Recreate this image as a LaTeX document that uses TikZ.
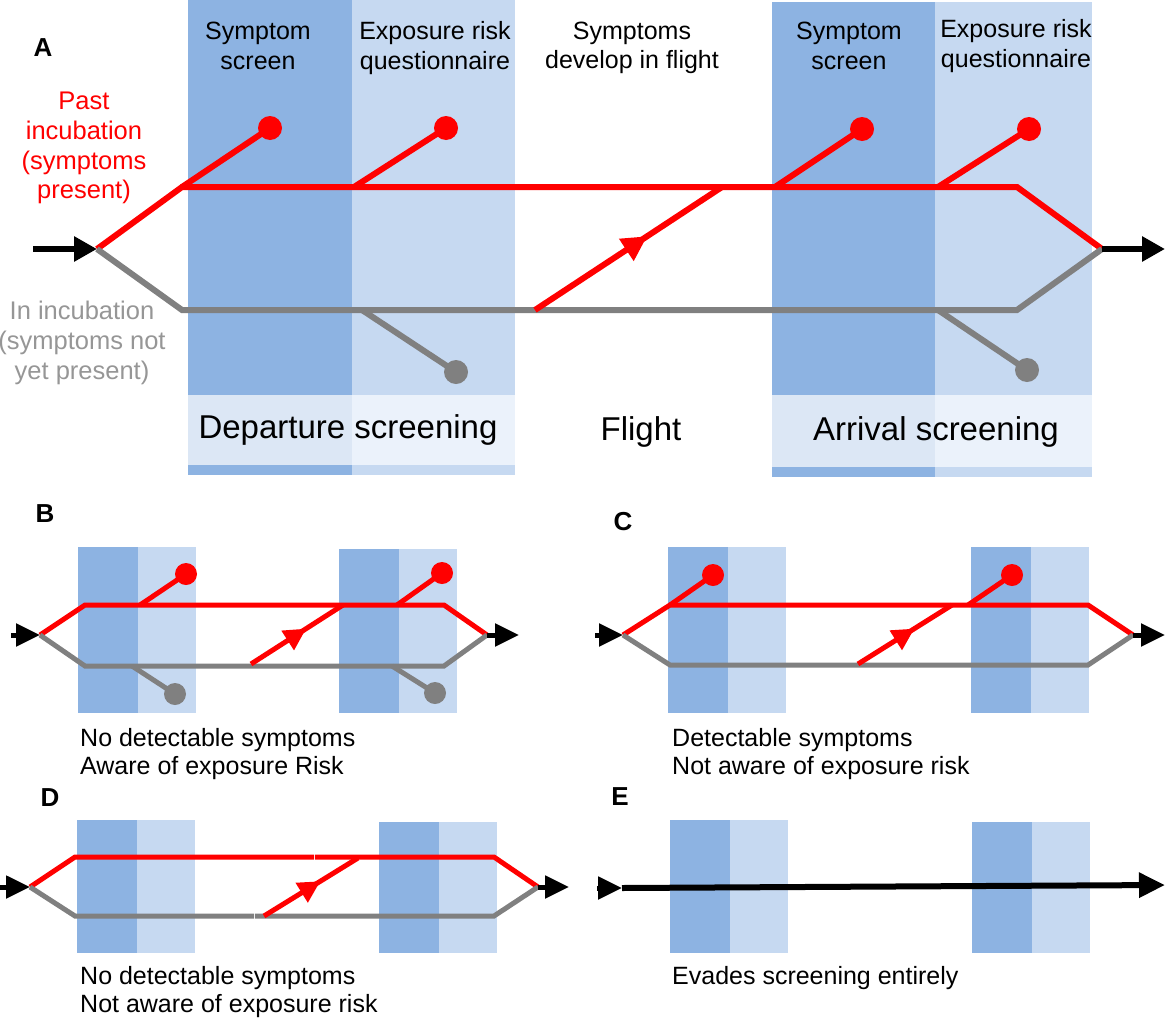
\documentclass[tikz,border=0pt]{standalone}
\usepackage{fontspec}
\setmainfont{Liberation Sans}
\usetikzlibrary{arrows.meta,decorations.markings}
\definecolor{scrdark}{RGB}{141,179,226}
\definecolor{scrlight}{RGB}{198,217,241}
\definecolor{banddark}{RGB}{220,231,245}
\definecolor{bandlight}{RGB}{235,242,251}
\definecolor{incgray}{RGB}{128,128,128}
\definecolor{labgray}{RGB}{150,150,150}
% a pair of screening boxes: left x, top y, bottom y
\newcommand{\screenpair}[3]{%
  \fill[scrdark] (#1,#2) rectangle ({#1+60},#3);
  \fill[scrlight] ({#1+60},#2) rectangle ({#1+118},#3);}

\begin{document}
\begin{tikzpicture}[x=1pt, y=-1pt,
  redline/.style={red, line width=6pt},
  grayline/.style={incgray, line width=6pt},
  small/.style={line width=5pt},
  flow/.style={black, line width=6pt, -{Triangle[length=23pt,width=24pt]}},
  smallflow/.style={black, line width=5pt, -{Triangle[length=24pt,width=22pt]}},
  onset/.style={postaction=decorate, decoration={markings,
      mark=at position 0.6 with {\arrow{Triangle[length=#1,width=#1]}}}},
  lab/.style={font=\fontsize{25}{29.5}\selectfont, align=center, inner sep=0pt},
  side/.style={font=\fontsize{25.5}{29.8}\selectfont, align=center, inner sep=0pt},
  big/.style={font=\fontsize{33}{40}\selectfont, inner sep=0pt},
  caption/.style={font=\fontsize{25}{28}\selectfont, align=left, anchor=west, inner sep=0pt},
  panel/.style={font=\fontsize{26}{30}\selectfont\bfseries, inner sep=0pt}]
\useasboundingbox (0,0) rectangle (1167,1020);

% panel A: screening zones
\fill[scrdark] (188,0) rectangle (352,395);
\fill[scrlight] (352,0) rectangle (515,395);
\fill[banddark] (188,395) rectangle (352,465);
\fill[bandlight] (352,395) rectangle (515,465);
\fill[scrdark] (188,465) rectangle (352,475);
\fill[scrlight] (352,465) rectangle (515,475);
\fill[scrdark] (772,2) rectangle (935,395);
\fill[scrlight] (935,2) rectangle (1092,395);
\fill[banddark] (772,395) rectangle (935,467);
\fill[bandlight] (935,395) rectangle (1092,467);
\fill[scrdark] (772,467) rectangle (935,477);
\fill[scrlight] (935,467) rectangle (1092,477);

\coordinate (aIn) at (33,249);
\coordinate (aS) at (97,249);
\coordinate (aRL) at (182,187);
\coordinate (aRR) at (1017,187);
\coordinate (aGL) at (182,310);
\coordinate (aGR) at (1017,310);
\coordinate (aE) at (1102,249);
\coordinate (aOut) at (1165,249);
\coordinate (aOn) at (535,310);
\coordinate (aOnEnd) at (722,187);

\draw[redline] (aS) -- (aRL) -- (aRR) -- (aE);
\draw[grayline] (aS) -- (aGL) -- (aGR) -- (aE);
\draw[redline, onset=25pt] (aOn) -- (aOnEnd);
\draw[flow] (aIn) -- (aS);
\draw[flow] (aE) -- (aOut);

\coordinate (aD1) at (270,128);
\coordinate (aD2) at (446,128);
\coordinate (aD3) at (862,129);
\coordinate (aD4) at (1029,129);
\coordinate (aG1) at (456,372);
\coordinate (aG2) at (1027,370);
\draw[redline] (aRL) -- (aD1);
\draw[redline] (354,187) -- (aD2);
\draw[redline] (775,187) -- (aD3);
\draw[redline] (938,187) -- (aD4);
\draw[grayline] (362,310) -- (aG1);
\draw[grayline] (938,310) -- (aG2);
\foreach \d in {aD1,aD2,aD3,aD4} \fill[red] (\d) circle[radius=12];
\foreach \d in {aG1,aG2} \fill[incgray] (\d) circle[radius=12];

\node[panel] (lA) at (43,48) {A};
\node[lab] (depSym) at (258,46) {Symptom\\screen};
\node[lab] (depExp) at (435,48) {Exposure risk\\questionnaire};
\node[lab] (devel) at (632,48) {Symptoms\\develop in flight};
\node[lab] (arrSym) at (849,46) {Symptom\\screen};
\node[lab] (arrExp) at (1016,46) {Exposure risk\\questionnaire};
\node[side, red] (past) at (84,148) {Past\\incubation\\(symptoms\\present)};
\node[side, labgray] (incub) at (82,343) {In incubation\\(symptoms not\\yet present)};
\node[big] (depart) at (348,430) {Departure screening};
\node[big] (flight) at (641,432) {Flight};
\node[big] (arrive) at (936,432) {Arrival screening};

% panel B
\screenpair{78}{547}{713}
\screenpair{339}{549}{713}
\coordinate (bIn) at (11,635);
\coordinate (bS) at (40,635);
\coordinate (bE) at (487,635);
\coordinate (bOut) at (519,635);
\draw[redline, small] (bS) -- (85,605) -- (444,605) -- (bE);
\draw[grayline, small] (bS) -- (85,666) -- (444,666) -- (bE);
\draw[redline, small, onset=22pt] (251,664) -- (343,605);
\draw[redline, small] (140,605) -- (186,574);
\draw[redline, small] (397,605) -- (442,573);
\draw[grayline, small] (132,666) -- (175,694);
\draw[grayline, small] (392,666) -- (435,693);
\fill[red] (186,574) circle[radius=11];
\fill[red] (442,573) circle[radius=11];
\fill[incgray] (175,694) circle[radius=11];
\fill[incgray] (435,693) circle[radius=11];
\draw[smallflow] (bIn) -- (bS);
\draw[smallflow] (bE) -- (bOut);
\node[panel] (lB) at (45,514) {B};
\node[caption] (capB) at (80,754) {No detectable symptoms\\Aware of exposure Risk};

% panel C
\screenpair{668}{547}{713}
\screenpair{971}{547}{713}
\coordinate (cIn) at (595,635);
\coordinate (cS) at (623,635);
\coordinate (cE) at (1133,635);
\coordinate (cOut) at (1165,635);
\draw[redline, small] (cS) -- (670,605) -- (1088,605) -- (cE);
\draw[grayline, small] (cS) -- (670,665) -- (1088,665) -- (cE);
\draw[redline, small, onset=22pt] (858,664) -- (952,605);
\draw[redline, small] (670,605) -- (713,575);
\draw[redline, small] (968,605) -- (1012,575);
\fill[red] (713,575) circle[radius=11];
\fill[red] (1012,575) circle[radius=11];
\draw[smallflow] (cIn) -- (cS);
\draw[smallflow] (cE) -- (cOut);
\node[panel] (lC) at (623,522) {C};
\node[caption] (capC) at (672,754) {Detectable symptoms\\Not aware of exposure risk};

% panel D
\screenpair{77}{820}{953}
\screenpair{379}{822}{953}
\coordinate (dIn) at (0,887);
\coordinate (dS) at (30,887);
\coordinate (dE) at (538,887);
\coordinate (dOut) at (569,887);
\draw[redline, small] (dS) -- (75,857) -- (314,857);
\draw[redline, small] (315.2,857) -- (494,857) -- (dE);
\draw[grayline, small] (dS) -- (75,916) -- (254,916);
\draw[grayline, small] (255.2,916) -- (494,916) -- (dE);
\draw[redline, small, onset=22pt] (264,916) -- (358,858);
\draw[smallflow] (dIn) -- (dS);
\draw[smallflow] (dE) -- (dOut);
\node[panel] (lD) at (50,798) {D};
\node[caption] (capD) at (80,992) {No detectable symptoms\\Not aware of exposure risk};

% panel E
\screenpair{670}{820}{953}
\screenpair{972}{822}{953}
\coordinate (eIn) at (597,888);
\coordinate (eS) at (622,888);
\coordinate (eOut) at (1165,885);
\draw[smallflow] (eIn) -- (eS);
\draw[smallflow, line width=6pt, -{Triangle[length=26pt,width=24pt]}] (eS) -- (eOut);
\node[panel] (lE) at (620,797) {E};
\node[caption] (capE) at (672,978) {Evades screening entirely};
\end{tikzpicture}
\end{document}
